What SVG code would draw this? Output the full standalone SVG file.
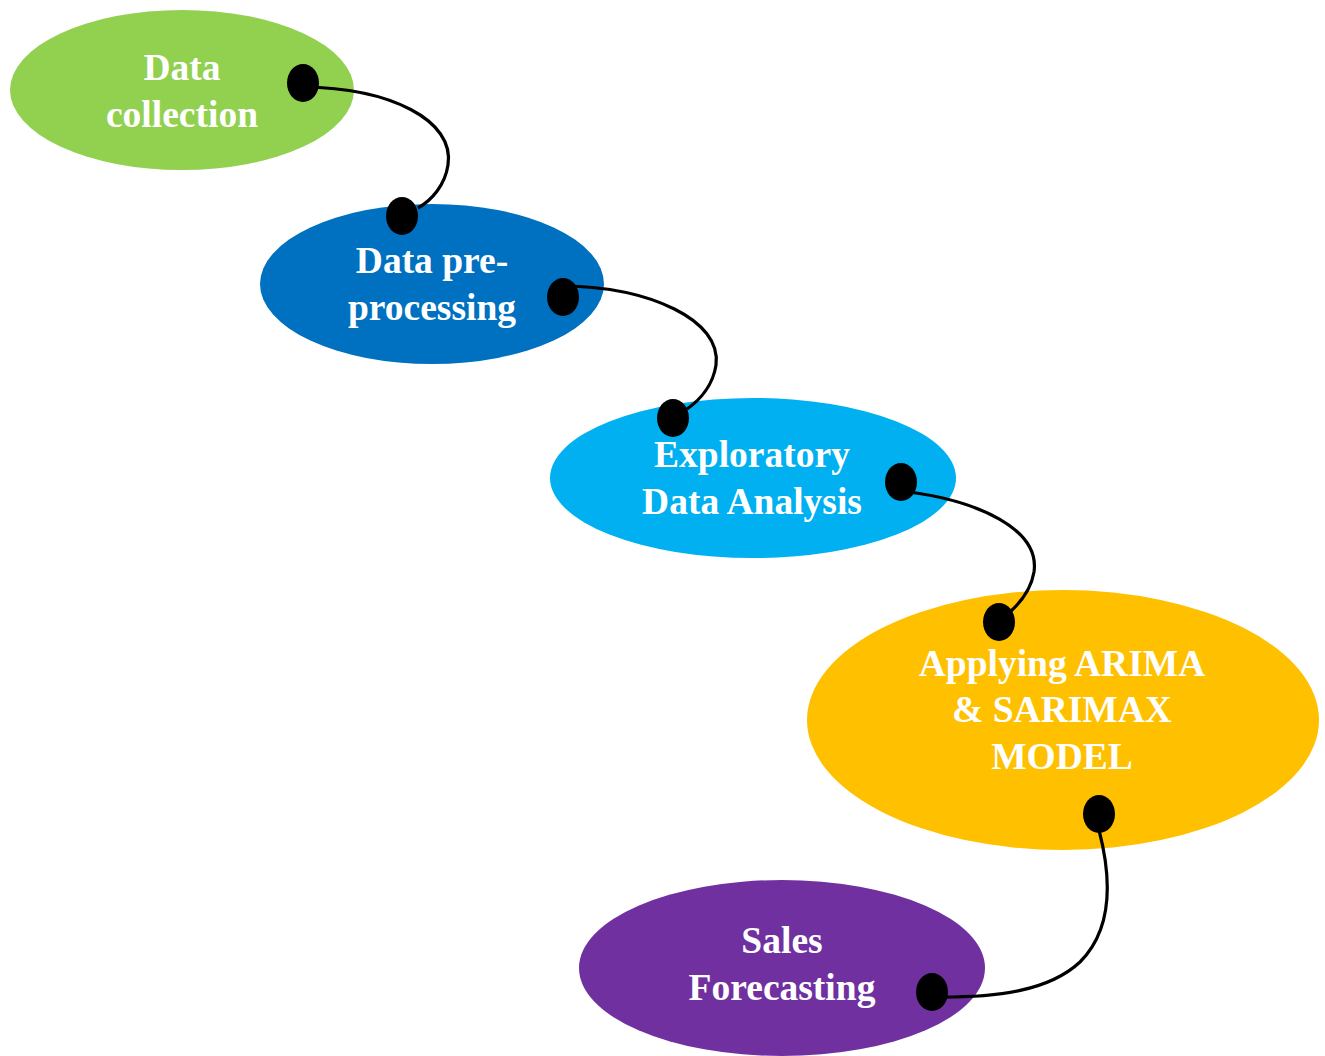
<svg xmlns="http://www.w3.org/2000/svg" width="1325" height="1056" viewBox="0 0 1325 1056">
  <style>
    .label { font-family: "Liberation Serif", "Times New Roman", serif; font-weight: bold; font-size: 37.5px; fill: #ffffff; text-anchor: middle; }
    .link { fill: none; stroke: #000000; stroke-width: 3.2; }
    .dot { fill: #000000; }
  </style>
  <rect width="1325" height="1056" fill="#ffffff"/>

  <g id="node-collection">
    <ellipse cx="182" cy="90" rx="172" ry="80" fill="#92D050"/>
    <text class="label" x="182" y="80">Data</text>
    <text class="label" x="182" y="127">collection</text>
  </g>

  <g id="node-preprocessing">
    <ellipse cx="432" cy="284" rx="172" ry="80" fill="#0070C0"/>
    <text class="label" x="432" y="273">Data pre-</text>
    <text class="label" x="432" y="320">processing</text>
  </g>

  <g id="node-eda">
    <ellipse cx="753" cy="478" rx="203" ry="80" fill="#00B0F0"/>
    <text class="label" x="752" y="467">Exploratory</text>
    <text class="label" x="752" y="514">Data Analysis</text>
  </g>

  <g id="node-models">
    <ellipse cx="1063" cy="720" rx="256" ry="130" fill="#FFC000"/>
    <text class="label" x="1062" y="676">Applying ARIMA</text>
    <text class="label" x="1062" y="722">&amp; SARIMAX</text>
    <text class="label" x="1062" y="769">MODEL</text>
  </g>

  <g id="node-forecasting">
    <ellipse cx="782" cy="968" rx="203" ry="88" fill="#7030A0"/>
    <text class="label" x="782" y="953">Sales</text>
    <text class="label" x="782" y="1000">Forecasting</text>
  </g>

  <g id="connectors">
    <path class="link" d="M303,87 C390,88 455,120 448,165 C445,185 432,200 418,208"/>
    <ellipse class="dot" cx="303" cy="83" rx="16" ry="19"/>
    <ellipse class="dot" cx="402" cy="216" rx="16" ry="19"/>

    <path class="link" d="M563,286 C650,287 722,320 716,365 C713,385 700,400 687,409"/>
    <ellipse class="dot" cx="563" cy="297" rx="16" ry="19"/>
    <ellipse class="dot" cx="673" cy="418" rx="16" ry="19"/>

    <path class="link" d="M901,491 C980,500 1040,530 1034,572 C1031,590 1020,603 1010,612"/>
    <ellipse class="dot" cx="901" cy="482" rx="16" ry="19"/>
    <ellipse class="dot" cx="999" cy="622" rx="16" ry="19"/>

    <path class="link" d="M1099,830 C1112,880 1112,930 1080,962 C1050,990 1000,998 932,997"/>
    <ellipse class="dot" cx="1099" cy="814" rx="16" ry="19"/>
    <ellipse class="dot" cx="932" cy="992" rx="16" ry="19"/>
  </g>
</svg>
